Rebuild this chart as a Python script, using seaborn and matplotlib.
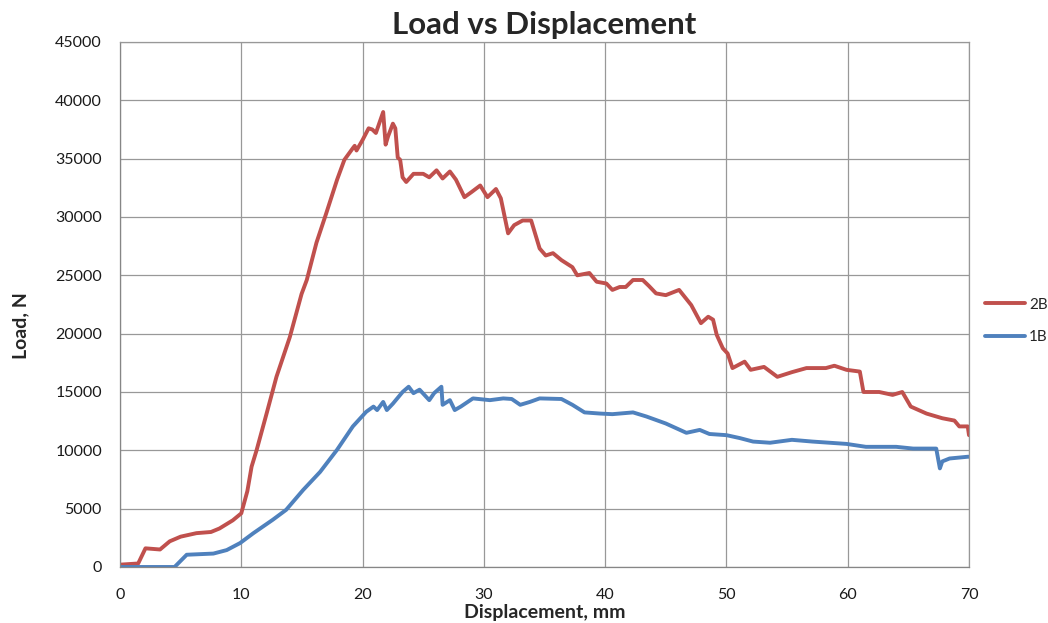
import pandas as pd
import matplotlib.pyplot as plt
import seaborn as sns

# Données (déplacement en mm, charge en N)
x_2b = [0, 1.5, 2.1, 3.3, 4.1, 5.0, 6.3, 7.5, 8.2, 9.3, 10.0, 10.5, 10.85, 11.26, 12.1, 12.9,
        14.0, 14.97, 15.4, 16.2, 17.0, 17.9, 18.5, 19.2, 19.35, 19.5, 20.0, 20.5, 20.8, 21.1,
        21.7, 21.9, 22.1, 22.5, 22.7, 22.9, 23.1, 23.3, 23.6, 24.2, 25.0, 25.5, 26.1, 26.6,
        27.2, 27.7, 28.4, 29.0, 29.7, 30.3, 31.0, 31.4, 32.0, 32.5, 33.2, 33.9, 34.6, 35.1,
        35.7, 36.4, 37.3, 37.7, 38.7, 39.3, 40.1, 40.6, 41.2, 41.7, 42.3, 43.1, 43.6, 44.2,
        45.0, 46.1, 47.1, 47.9, 48.5, 48.9, 49.2, 49.7, 50.1, 50.5, 51.5, 52.0, 53.1, 54.2,
        55.4, 56.6, 58.2, 58.9, 59.9, 61.0, 61.3, 62.6, 63.7, 64.5, 65.2, 66.5, 67.8, 68.8,
        69.2, 69.9, 70.0]
load_2b = [200, 300, 1600, 1500, 2200, 2600, 2900, 3000, 3300, 4000, 4600, 6500, 8600, 10000,
           13200, 16300, 19700, 23400, 24600, 27800, 30300, 33200, 34900, 35900, 36100, 35700,
           36600, 37600, 37500, 37200, 39000, 36200, 36900, 38000, 37600, 35100, 34900, 33400,
           33000, 33700, 33700, 33400, 34000, 33300, 33900, 33200, 31700, 32150, 32700, 31700,
           32400, 31600, 28600, 29300, 29700, 29700, 27300, 26700, 26900, 26300, 25700, 25000,
           25200, 24450, 24300, 23750, 24000, 24000, 24600, 24600, 24100, 23450, 23300, 23750,
           22450, 20900, 21450, 21200, 19900, 18750, 18300, 17050, 17600, 16900, 17150, 16300,
           16700, 17050, 17050, 17250, 16900, 16750, 15000, 15000, 14750, 15000, 13750, 13150,
           12750, 12550, 12050, 12050, 11300]

x_1b = [0, 4.5, 5.5, 7.7, 8.8, 9.9, 11.0, 12.6, 13.7, 15.1, 16.5, 17.9, 19.2, 20.3, 20.9, 21.2,
        21.7, 22.0, 22.5, 23.3, 23.8, 24.2, 24.7, 25.5, 25.9, 26.5, 26.6, 27.2, 27.6, 28.1,
        29.1, 30.5, 31.6, 32.3, 33.0, 33.8, 34.6, 36.4, 37.3, 38.3, 39.6, 40.6, 42.3, 43.4,
        45.0, 46.7, 47.8, 48.6, 50.0, 51.1, 52.2, 53.6, 55.4, 57.1, 59.9, 61.5, 64.0, 65.4,
        67.3, 67.6, 67.8, 68.4, 69.9, 70.0]
load_1b = [0, 0, 1050, 1150, 1450, 2050, 2900, 4050, 4900, 6600, 8150, 10050, 12050, 13300,
           13750, 13450, 14150, 13450, 14000, 15000, 15450, 14900, 15200, 14300, 14900, 15450,
           13900, 14300, 13450, 13750, 14450, 14300, 14450, 14400, 13900, 14150, 14450, 14400,
           13900, 13250, 13150, 13100, 13250, 12900, 12300, 11500, 11750, 11400, 11300, 11050,
           10750, 10650, 10900, 10750, 10550, 10300, 10300, 10150, 10150, 8450, 9050, 9300,
           9450, 9450]

series = ["2B", "1B"]
couleurs = {"2B": "#C0504D", "1B": "#4F81BD"}

df = pd.concat([
    pd.DataFrame({"Displacement": x_2b, "Load": load_2b, "Serie": "2B"}),
    pd.DataFrame({"Displacement": x_1b, "Load": load_1b, "Serie": "1B"}),
], ignore_index=True)

sns.set_style("white")
plt.rcParams["font.family"] = ["Lato", "DejaVu Sans"]

fig = plt.figure(figsize=(10.48, 6.23), dpi=100)
ax = fig.add_axes([0.1145, 0.0899, 0.8101, 0.8427])

sns.lineplot(data=df, x="Displacement", y="Load", hue="Serie", hue_order=series,
             palette=couleurs, sort=False, linewidth=2.8, ax=ax, legend=False)

ax.set_xlim(0, 70)
ax.set_ylim(0, 45000)
ax.set_xticks(range(0, 71, 10))
ax.set_yticks(range(0, 45001, 5000))
ax.grid(True, color="#989898", linewidth=0.9)
ax.set_axisbelow(True)
for s in ax.spines.values():
    s.set_color("#989898")
    s.set_linewidth(0.9)
ax.spines["left"].set_color("#868686")
ax.spines["bottom"].set_color("#868686")
ax.tick_params(axis="both", length=0, labelsize=11.5, colors="#1a1a1a")
ax.tick_params(axis="x", pad=15)
ax.tick_params(axis="y", pad=13)

ax.set_title("Load vs Displacement", fontsize=22.5, fontweight="bold", pad=6)
ax.set_xlabel("Displacement, mm", fontsize=14, fontweight="bold")
ax.set_ylabel("Load, N", fontsize=14, fontweight="bold")
ax.xaxis.set_label_coords(0.5, -0.07)
ax.yaxis.set_label_coords(-0.1166, 0.459)
ax.yaxis.label.set_va("center")

handles = [plt.Line2D([], [], color=couleurs[s], linewidth=2.8) for s in series]
fig.legend(handles, series, loc="center left", bbox_to_anchor=(0.9399, 0.4848),
           frameon=False, fontsize=11, handlelength=2.6, handletextpad=0.27,
           labelspacing=1.2, borderpad=0, borderaxespad=0)

plt.savefig("out.png", dpi=100)
